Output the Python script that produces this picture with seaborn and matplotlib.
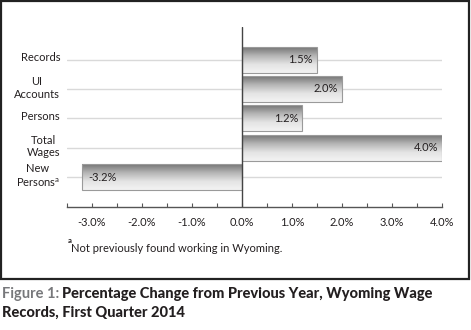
import matplotlib
matplotlib.use("Agg")
import matplotlib.pyplot as plt
import matplotlib.transforms as mtransforms
import numpy as np
import pandas as pd
import seaborn as sns
from matplotlib.patches import Rectangle
from matplotlib.ticker import MultipleLocator, FuncFormatter

categories = ["Records", "UI\nAccounts", "Persons", "Total\nWages", "New\nPersons$^\\mathregular{a}$"]
values = [1.5, 2.0, 1.2, 4.0, -3.2]
value_labels = ["1.5%", "2.0%", "1.2%", "4.0%", "-3.2%"]
xticks = [-3.0, -2.0, -1.0, 0.0, 1.0, 2.0, 3.0, 4.0]
footnote = "Not previously found working in Wyoming."
caption_prefix = "Figure 1:"
caption_line1 = "Percentage Change from Previous Year, Wyoming Wage"
caption_line2 = "Records, First Quarter 2014"

sns.set_theme(style="white")
plt.rcParams["font.family"] = ["Lato", "DejaVu Sans"]
TXT = "#231f20"

df = pd.DataFrame({"cat": categories, "val": values})

fig = plt.figure(figsize=(4.71, 3.30), dpi=100)
W, H = 471, 330
ax = fig.add_axes([67 / W, 1 - 207 / H, 375 / W, 180 / H])

sns.barplot(data=df, x="val", y="cat", orient="h", ax=ax, width=0.88,
            color="#aaaaaa", edgecolor="none", zorder=3)

# gridlines at category positions
for i in range(len(categories)):
    ax.axhline(i, color="#d9d9d9", lw=1.0, zorder=1)

# gradient fills
grad = np.linspace(0, 1, 64).reshape(-1, 1)
cmap = matplotlib.colors.LinearSegmentedColormap.from_list(
    "g", ["#767676", "#b5b5b5", "#e4e4e4", "#f3f3f3"])
for p in list(ax.patches):
    x0 = p.get_x(); w = p.get_width(); y0 = p.get_y(); h = p.get_height()
    xl, xr = min(x0, x0 + w), max(x0, x0 + w)
    yt, yb = min(y0, y0 + h), max(y0, y0 + h)
    im = ax.imshow(grad, extent=(xl, xr, yb, yt), origin="upper", cmap=cmap,
                   aspect="auto", zorder=4, interpolation="bilinear")
    im.set_clip_path(p)
    ax.add_patch(Rectangle((xl, yt), xr - xl, yb - yt, facecolor="none",
                           edgecolor="#9a9a9a", lw=0.8, zorder=5))

ax.set_xlim(-3.5, 4.0)
ax.set_ylim(5.02, -1.11)

ax.axvline(0, color="#444444", lw=1.0, zorder=6)

# value labels
for i, (v, lab) in enumerate(zip(values, value_labels)):
    if v >= 0:
        ax.text(v - 0.08, i, lab, ha="right", va="center", fontsize=8,
                color=TXT, zorder=7)
    else:
        ax.text(v + 0.12, i, lab, ha="left", va="center", fontsize=8,
                color=TXT, zorder=7)

for s in ["top", "right", "left"]:
    ax.spines[s].set_visible(False)
ax.spines["bottom"].set_color("#555555")
ax.spines["bottom"].set_linewidth(1.0)

ax.xaxis.set_major_locator(matplotlib.ticker.FixedLocator(xticks))
ax.xaxis.set_minor_locator(MultipleLocator(0.5))
ax.xaxis.set_major_formatter(FuncFormatter(lambda x, pos: f"{x:.1f}%"))
ax.tick_params(axis="x", which="both", direction="in", length=3, width=0.8,
               color="#555555", bottom=True, labelsize=8, labelcolor=TXT, pad=7)
ax.tick_params(axis="y", length=0, labelsize=8, labelcolor=TXT, pad=5)
ax.set_xlabel("")
ax.set_ylabel("")
shift = mtransforms.ScaledTranslation(0, 3 / 100, fig.dpi_scale_trans)
for t in ax.get_yticklabels():
    t.set_multialignment("center")
    t.set_transform(t.get_transform() + shift)

# footnote
fig.text(68 / W, 1 - 243 / H, "a", fontsize=5.5, color=TXT, fontweight="bold",
         ha="left", va="baseline")
fig.text(71 / W, 1 - 252 / H, footnote, fontsize=8, color=TXT,
         ha="left", va="baseline")

# border
fig.add_artist(Rectangle((1 / W, 1 - 278.5 / H), 468 / W, 277.5 / H,
                         transform=fig.transFigure, facecolor="none",
                         edgecolor="#222222", lw=1.6))

# caption
fs = 10.5
t1 = fig.text(2 / W, 1 - 298 / H, caption_prefix, fontsize=fs, color="#77787b",
              ha="left", va="baseline", fontweight="bold")
fig.canvas.draw()
bb = t1.get_window_extent()
fig.text((bb.x1 + 3) / W, 1 - 298 / H, caption_line1, fontsize=fs, color=TXT,
         ha="left", va="baseline", fontweight="black")
fig.text(2 / W, 1 - 317 / H, caption_line2, fontsize=fs, color=TXT,
         ha="left", va="baseline", fontweight="black")

fig.savefig("out.png", dpi=100)
